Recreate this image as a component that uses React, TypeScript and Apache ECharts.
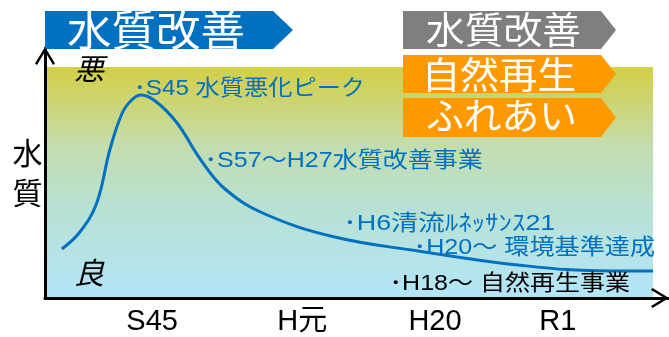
import React, { useEffect, useRef } from 'react';
import * as echarts from 'echarts';

// ---- data ----
const tickPositions = [17.2, 41.3, 62.6, 82.3];
const tickLabels = ['S45', 'H元', 'H20', 'R1'];
const curveX = [2.7, 5.6, 8.3, 10.4, 12.4, 14.0, 15.4, 17.7, 21.2, 24.9, 28.9, 35.3, 46.5, 59.9, 75.9, 90.7, 97.6];
const curveY = [19.6, 26.4, 38.0, 59.2, 74.0, 79.4, 81.2, 78.8, 70.0, 55.6, 43.6, 33.6, 24.4, 18.8, 13.2, 10.8, 10.8];
const backgroundCorner = [97.6, 92.4];
const bannerLabels = ['水質改善', '水質改善', '自然再生', 'ふれあい'];
const noteLabels = ['･S45 水質悪化ピーク', '･S57～H27水質改善事業', '･H6清流ﾙﾈｯｻﾝｽ21', '･H20～ 環境基準達成', '･H18～ 自然再生事業'];
const axisTitle = '水\n質';
const scaleEnds = ['悪', '良'];

const FONT = "'Liberation Sans', 'Noto Sans CJK JP', sans-serif";

let measureCtx: CanvasRenderingContext2D | null = null;
function fitText(text: string, size: number, left: number, right: number, cy: number, fill: string) {
  if (!measureCtx) measureCtx = document.createElement('canvas').getContext('2d');
  const ctx = measureCtx!;
  ctx.font = `${size}px ${FONT}`;
  const m = ctx.measureText(text);
  const inkL = m.actualBoundingBoxLeft;
  const inkR = m.actualBoundingBoxRight;
  const w = inkL + inkR || 1;
  const s = (right - left) / w;
  return {
    type: 'text',
    x: left + s * inkL,
    y: cy,
    scaleX: s,
    z: 10,
    silent: true,
    style: { text, fontSize: size, fontFamily: FONT, fill, align: 'left', verticalAlign: 'middle' },
  };
}

function banner(points: number[][], color: string) {
  return { type: 'polygon', z: 9, silent: true, shape: { points }, style: { fill: color } };
}

const chevron = 'path://M0,16.5 L10,0 L20,16.5 L18,18 L10,4.5 L2,18 Z';

export default function App() {
  const ref = useRef<HTMLDivElement>(null);
  useEffect(() => {
    if (!ref.current) return;
    const chart = echarts.init(ref.current, undefined, { renderer: 'svg' });
    const blue = '#0070C0';
    const gradient = new echarts.graphic.LinearGradient(0, 0, 0, 1, [
      { offset: 0, color: '#D3CF45' },
      { offset: 0.35, color: '#C3DDB0' },
      { offset: 0.6, color: '#B8E1D2' },
      { offset: 1, color: '#B3E5F9' },
    ]);
    const axisLine = {
      show: true,
      symbol: ['none', chevron],
      symbolSize: [20, 18],
      symbolOffset: [0, -8],
      lineStyle: { color: '#000', width: 3 },
    };
    chart.setOption({
      animation: false,
      textStyle: { fontFamily: FONT },
      grid: { left: 45, right: 1, top: 48, bottom: 39 },
      xAxis: {
        type: 'value',
        min: 0,
        max: 100,
        z: 5,
        axisLine,
        axisTick: { show: false },
        splitLine: { show: false },
        axisLabel: {
          customValues: tickPositions,
          formatter: (v: number) => {
            const i = tickPositions.findIndex((p) => Math.abs(p - v) < 1e-6);
            return i >= 0 ? tickLabels[i] : '';
          },
          color: '#000',
          fontSize: 29,
          lineHeight: 29,
          margin: 7,
          fontFamily: FONT,
        },
      },
      yAxis: {
        type: 'value',
        min: 0,
        max: 100,
        z: 5,
        axisLine,
        axisTick: { show: false },
        splitLine: { show: false },
        axisLabel: { show: false },
        name: axisTitle,
        nameLocation: 'middle',
        nameRotate: 0,
        nameGap: 17.5,
        nameTextStyle: {
          color: '#000',
          fontSize: 30,
          lineHeight: 40,
          align: 'center',
          verticalAlign: 'middle',
          padding: [6, 0, 0, 0],
          fontFamily: FONT,
        },
      },
      series: [
        {
          type: 'line',
          data: curveX.map((x, i) => [x, curveY[i]]),
          smooth: 0.4,
          symbol: 'none',
          z: 3,
          silent: true,
          lineStyle: { color: blue, width: 3 },
          markArea: {
            silent: true,
            z: 1,
            label: { show: false },
            itemStyle: { color: gradient, opacity: 1 },
            data: [[{ coord: [0, 0] }, { coord: backgroundCorner }]],
          },
        },
      ],
      graphic: [
        banner([[45, 11], [273, 11], [293, 30], [273, 49], [45, 49]], blue),
        banner([[403, 11], [601, 11], [616, 30], [601, 49], [403, 49]], '#7F7F7F'),
        banner([[403, 55], [601, 55], [616, 74], [601, 93], [403, 93]], '#FF9900'),
        banner([[403, 98], [601, 98], [616, 117.5], [601, 137], [403, 137]], '#FF9900'),
        fitText(bannerLabels[0], 42, 68, 243, 31.5, '#fff'),
        fitText(bannerLabels[1], 37, 427, 580, 31.5, '#fff'),
        fitText(bannerLabels[2], 37, 428, 575, 76, '#fff'),
        fitText(bannerLabels[3], 37, 427, 575, 117.5, '#fff'),
        fitText(noteLabels[0], 22, 137, 363, 87, blue),
        fitText(noteLabels[1], 22, 208, 483, 160, blue),
        fitText(noteLabels[2], 22, 347, 555, 222, blue),
        fitText(noteLabels[3], 22, 417, 655, 247, blue),
        fitText(noteLabels[4], 22, 393, 630, 283, '#000'),
        {
          type: 'text', x: 89, y: 69, z: 10, silent: true,
          style: { text: scaleEnds[0], fontSize: 30, fontStyle: 'italic', fontFamily: FONT, fill: '#000', align: 'center', verticalAlign: 'middle' },
        },
        {
          type: 'text', x: 89, y: 273.5, z: 10, silent: true,
          style: { text: scaleEnds[1], fontSize: 30, fontStyle: 'italic', fontFamily: FONT, fill: '#000', align: 'center', verticalAlign: 'middle' },
        },
      ],
    });
    return () => chart.dispose();
  }, []);
  return <div ref={ref} style={{ position: 'fixed', left: 0, top: 0, width: 669, height: 337 }} />;
}
